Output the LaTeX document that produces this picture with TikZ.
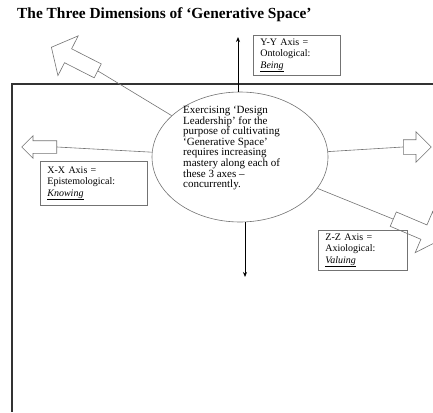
\documentclass[tikz,border=0pt]{standalone}
\usepackage{fontspec}
\setmainfont{Liberation Serif}
\usetikzlibrary{shapes.geometric,shapes.arrows,arrows.meta}
\tikzset{
  cornice/.style={draw=black!80, line width=1.6pt},
  asse/.style={draw=black!55, line width=0.6pt},
  asseforte/.style={draw=black, line width=1pt, -{Stealth[length=5pt,width=4pt]}},
  freccia/.style={single arrow, draw=black!55, fill=white, line width=0.6pt,
    inner xsep=0pt, anchor=tail},
  casella/.style={draw=black!55, line width=0.8pt, anchor=north west, align=left,
    inner xsep=7pt, inner ysep=3pt, font=\fontsize{10}{11.5}\selectfont},
  testo/.style={align=left, inner sep=0pt, font=\fontsize{11}{10.6}\selectfont}
}
\begin{document}
\begin{tikzpicture}[x=1pt,y=-1pt]
  \useasboundingbox (0,0) rectangle (433,412);
  % Titolo in alto
  \node[anchor=west, inner sep=0pt, font=\fontsize{15.4}{17}\selectfont\bfseries] (titolo) at (17,15)
    {The Three Dimensions of ‘Generative Space’};
  % Cornice grande (lati alto e sinistro)
  \draw[cornice] (433,84) -- (12,84) -- (12,412);
  % Ellisse centrale e testo
  \node[ellipse, draw=black!55, line width=0.6pt, minimum width=176pt, minimum height=130pt] (centro) at (240,157) {};
  \node[testo, anchor=north west] (spiega) at (183,106)
    {Exercising ‘Design\\Leadership’ for the\\purpose of cultivating\\‘Generative Space’\\requires increasing\\mastery along each of\\these 3 axes --\\concurrently.};
  % Asse Y-Y: su e giu
  \coordinate (ysu) at (238,37);
  \coordinate (ygiu) at (245,277);
  \draw[asseforte] (centro.north -| ysu) -- (ysu);
  \draw[asseforte] (centro.south -| ygiu) -- (ygiu);
  \node[casella, text width=73pt, minimum height=40pt] (yy) at (253,35)
    {Y-Y Axis =\\Ontological:\\\underline{\textit{Being}}};
  % Asse X-X: frecce vuote a sinistra e a destra
  \node[freccia, inner ysep=6pt, single arrow head extend=5pt, minimum height=35pt, rotate=180] (xsx) at (57,147) {};
  \node[freccia, inner ysep=7pt, single arrow head extend=8pt, minimum height=28pt] (xdx) at (403,147) {};
  \draw[asse] (centro) -- (xsx.tail);
  \draw[asse] (centro) -- (xdx.tail);
  \node[casella, text width=93pt, minimum height=44pt] (xx) at (40,161)
    {X-X Axis =\\Epistemological:\\\underline{\textit{Knowing}}};
  % Asse Z-Z: freccia grande in alto a sinistra e in basso a destra
  \node[freccia, inner ysep=7.5pt, single arrow head extend=14.5pt, single arrow tip angle=100,
    minimum height=52pt, rotate=153] (zsu) at (98,71) {};
  \node[freccia, inner ysep=7.5pt, single arrow head extend=14.5pt, single arrow tip angle=100,
    minimum height=52pt, rotate=-23] (zgiu) at (393,219) {};
  \draw[asse] (centro) -- (zsu.tail);
  \draw[asse] (centro) -- (zgiu.tail);
  \node[casella, text width=75pt, minimum height=40pt] (zz) at (318,230)
    {Z-Z Axis =\\Axiological:\\\underline{\textit{Valuing}}};
\end{tikzpicture}
\end{document}
